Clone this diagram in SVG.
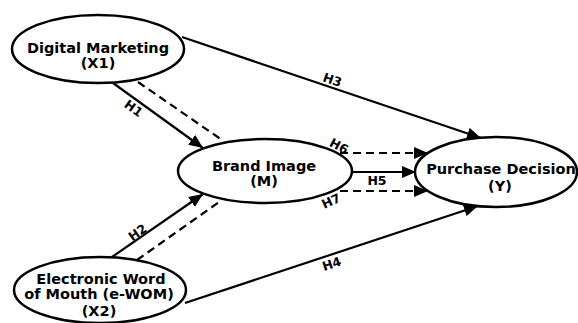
<svg xmlns="http://www.w3.org/2000/svg" width="578" height="323" viewBox="0 0 578 323">
<style>
.node ellipse{fill:#fff;stroke:#000;stroke-width:2.5}
.node text{font-family:"DejaVu Sans","Liberation Sans",sans-serif;font-weight:bold;font-size:14.5px;text-anchor:middle;fill:#000}
.edge{stroke:#000;stroke-width:2.2;fill:none}
.dash{stroke-dasharray:8,5}
.lbl{font-family:"DejaVu Sans","Liberation Sans",sans-serif;font-weight:bold;font-size:12.5px;text-anchor:middle;fill:#000}
</style>
<defs>
<marker id="ah" markerUnits="userSpaceOnUse" markerWidth="16" markerHeight="14" refX="14" refY="6" orient="auto">
<path d="M0,0 L14,6 L0,12 z" fill="#000"/>
</marker>
</defs>
<rect width="578" height="323" fill="#fff"/>
<g id="connectors">
<line class="edge" x1="113" y1="83" x2="203" y2="148" marker-end="url(#ah)"/>
<line class="edge dash" x1="138" y1="82" x2="222" y2="140"/>
<line class="edge" x1="112" y1="257" x2="203" y2="194" marker-end="url(#ah)"/>
<line class="edge dash" x1="137" y1="260" x2="222" y2="200"/>
<line class="edge" x1="182" y1="37" x2="481" y2="138" marker-end="url(#ah)"/>
<line class="edge dash" x1="340" y1="153" x2="428" y2="153" marker-end="url(#ah)"/>
<line class="edge" x1="352" y1="172" x2="416" y2="172" marker-end="url(#ah)"/>
<line class="edge dash" x1="340" y1="191" x2="428" y2="191" marker-end="url(#ah)"/>
<line class="edge" x1="185" y1="303" x2="478" y2="206" marker-end="url(#ah)"/>
<text class="lbl" transform="translate(131,112) rotate(36)">H1</text>
<text class="lbl" transform="translate(140,236) rotate(-35)">H2</text>
<text class="lbl" transform="translate(331,84) rotate(19)">H3</text>
<text class="lbl" transform="translate(333,268) rotate(-18)">H4</text>
<text class="lbl" x="377" y="185">H5</text>
<text class="lbl" transform="translate(337,150) rotate(28)">H6</text>
<text class="lbl" transform="translate(333,205) rotate(-25)">H7</text>
</g>
<g id="digital-marketing" class="node">
<ellipse cx="98" cy="49" rx="86" ry="34"/>
<text x="98" y="53">Digital Marketing</text>
<text x="98" y="68">(X1)</text>
</g>
<g id="brand-image" class="node">
<ellipse cx="265" cy="171" rx="87" ry="32"/>
<text x="264" y="171">Brand Image</text>
<text x="264" y="186">(M)</text>
</g>
<g id="purchase-decision" class="node">
<ellipse cx="496" cy="172" rx="81" ry="35"/>
<text x="501" y="174">Purchase Decision</text>
<text x="500" y="191">(Y)</text>
</g>
<g id="ewom" class="node">
<ellipse cx="100" cy="290" rx="86" ry="33"/>
<text x="101" y="284">Electronic Word</text>
<text x="99" y="299">of Mouth (e-WOM)</text>
<text x="99" y="316">(X2)</text>
</g>
</svg>
